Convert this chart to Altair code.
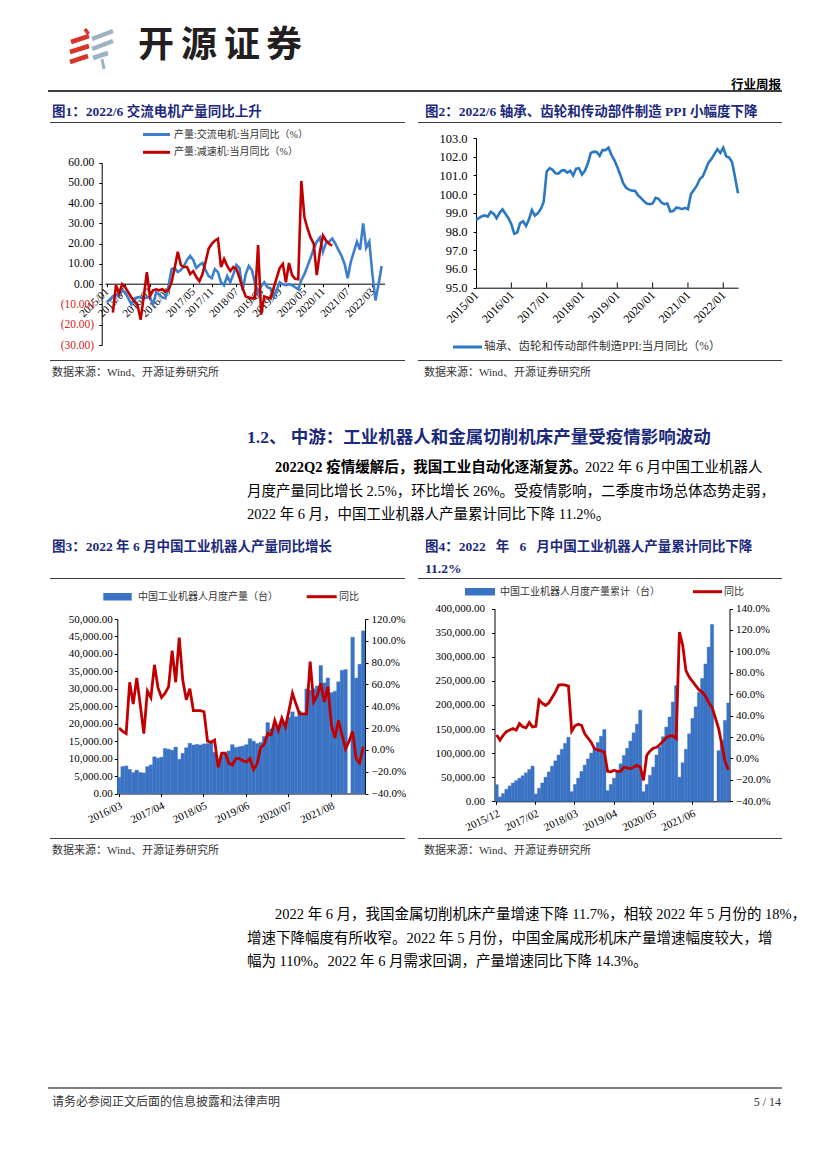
import json
import altair as alt
import pandas as pd

W, H = 811, 1153
M = 8

SERIF = "Liberation Serif"
MIX = "Liberation Serif, Noto Sans CJK SC"
CJK = "Noto Sans CJK SC"
NAVY = "#1C2A7C"
BLUE_LINE = "#3E7FCB"
BLUE_PPI = "#2B78C2"
BLUE_BAR = "#3A72C4"
RED = "#C00000"
NEG_RED = "#D42020"
GREY_TXT = "#333333"

# ---------------- data ----------------
fig1_ticks = ["2015/01", "2015/07", "2016/03", "2016/09", "2017/05", "2017/11", "2018/07",
              "2019/03", "2019/09", "2020/05", "2020/11", "2021/07", "2022/03"]
ac_motor_yoy = [-9, -7.5, -6, -5, -6, -3, -4, -7, -10, -7,
                -6.5, -6.5, -7, -6.5, -6.5, -10, -4, -5, -6.5, -7,
                -1, 7.5, 8, 6, 7, 9, 12, 14, 12, 8,
                9.5, 10.5, 7, 4, 3, 7.5, 6, 1, -0.5, 4,
                1, 5, 9.5, 8, -3, 5, 9, 7, 0.5, -4,
                -1, 1, -1.5, -2, -6.5, -3, 1, 0, -0.5, 0,
                -0.5, -1.5, -2.5, 2, 5, 9, 13, 17.5, 21, 23,
                16, 20.5, 21, 22.5, 20, 17, 14, 10, 3, 11,
                16, 21, 17, 30, 18, 21, 5, -8, 0, 9]
reducer_yoy = [-14, -0.5, -4.5, 0, -1.5, -4, -6.5, -8.5, -10.5, -17.5,
               -6, 6, -6, -3, -2.5, -3, -2.5, -3.5, -3, 1,
               8, 16, 9.5, 8.5, 8.5, 5, 6.5, 3.5, 1.5, 5,
               11, 17.5, 20, 21.5, 22.5, 8.5, 12.5, 9, 6.5, 8.5,
               7.5, 3, -2, -6, -6.5, -7, -7, 19.3, -15, -6,
               -6.5, -7, -2, 3, 8, 10, 1, 10.5, 4.5, 2.7,
               2.5, 51, 33, 27.5, 23, 20, 4.5, 16, 24, 21.5,
               20, 19]

fig2_ticks = ["2015/01", "2016/01", "2017/01", "2018/01", "2019/01", "2020/01", "2021/01", "2022/01"]
bearing_ppi_yoy = [98.63, 98.72, 98.82, 98.86, 98.80, 99.05, 98.95, 98.71, 99.0, 99.18,
                   98.95, 98.71, 98.40, 97.88, 97.95, 98.45, 98.55, 98.30, 98.65, 99.15,
                   98.85, 98.98, 99.2, 99.6, 101.2, 101.39, 101.3, 101.12, 101.1, 101.25,
                   101.28, 101.15, 101.25, 101.0, 101.36, 101.38, 101.05, 101.25, 101.65, 102.2,
                   102.27, 102.25, 102.05, 102.35, 102.35, 102.48, 102.1, 101.82, 101.45, 101.04,
                   100.58, 100.34, 100.24, 100.18, 100.18, 99.95, 99.8, 99.63, 99.5, 99.46,
                   99.5, 99.8, 99.75, 99.55, 99.47, 99.5, 99.07, 99.1, 99.28, 99.26,
                   99.2, 99.27, 99.2, 100.0, 100.22, 100.45, 100.8, 100.95, 101.3, 101.7,
                   101.88, 102.15, 102.4, 102.2, 102.48, 102.02, 101.95, 101.7, 100.9, 100.05]

robot_monthly_output = [4600, 7700, 7900, 6900, 6000, 6700, 6000, 5900, 7700, 8200,
                        10500, 10100, 10400, 12900, 12700, 12400, 13300, 9800, 11500, 13100,
                        14400, 13900, 14100, 13900, 14200, 14300, 14600, 11800, 9900, 11000,
                        11400, 12200, 14000, 13200, 13400, 13600, 14000, 15700, 15000, 14300,
                        14600, 16300, 20300, 18500, 19100, 19500, 21200, 20000, 21800, 23400,
                        22000, 23600, 22800, 30000, 29600, 30000, 30800, 36700, 31700, 33100,
                        28900, 29300, 32000, 35300, 35500, None, 44800, 33100, 37000, 46600]
robot_monthly_yoy = [20, 17, 15, 62, 42, 66, 41, 15, 54, 48,
                     78, 57, 48, 52, 58, 91, 62, 103, 64, 46,
                     56, 36, 36, 36, 35, 8, 7, 9, -16, -3,
                     -3, -12, -14, -8, -8, -10, -11, -8, -18, -13,
                     2, 5, 15, 14, 27, 18, 29, 21, 36, 52,
                     42, 33, 33, 33, 81, 44, 50, 61, 44, 58,
                     23, 11, 27, 14, 1, 8, 17, -8, -12, 3]

robot_cum_output = [34600,
                    9000, 16000, 25000, 32000, 38000, 43000, 48000, 53000, 59000, 66000, 73000,
                    15000, 27000, 38000, 50000, 61000, 73000, 84000, 96000, 108000, 120000, 133000,
                    20000, 35000, 48000, 62000, 75000, 88000, 100000, 110000, 122000, 135000, 149000,
                    22000, 35000, 48000, 61000, 78000, 95000, 110000, 125000, 142000, 160000, 189000,
                    20000, 35000, 54000, 71000, 96000, 113000, 134000, 154000, 175000, 206000, 240000,
                    50000, 80000, 108000, 140000, 172000, 196000, 226000, 255000, 285000, 320000, 367000,
                    None, 105000, 127000, 168000, 204000]
robot_cum_yoy = [22, 17, 21.5, 25, 26.5, 28, 26.5, 32.5, 29.5, 28.5, 33.5, 29.5,
                 30, 54.5, 51.5, 49.5, 52, 57, 62, 68.5, 69, 68.5,
                 67.5, 25.5, 30.5, 32, 31, 23, 19, 15, 9, 8, 7,
                 6, -12, -12.5, -11, -12, -12, -8, -9, -9.5, -8, -6.5,
                 -8, -20.5, 3, 7, 9.5, 10.5, 13, 16, 19.5, 21, 21,
                 18.5, 118, 106, 82, 76, 72, 68, 64, 62, 58, 52,
                 48, 38, 28, 13, -3, -10.5]


def month_index(s, y0=2015, m0=1):
    y, m = s.split("/")
    return (int(y) - y0) * 12 + int(m) - m0


def months_skip_jan(y0, m0, y1, m1):
    out = []
    y, m = y0, m0
    while (y, m) <= (y1, m1):
        if m != 1:
            out.append(f"{y}/{m:02d}")
        m += 1
        if m > 12:
            m, y = 1, y + 1
    return out


cats3 = months_skip_jan(2016, 3, 2022, 6)
cats4 = months_skip_jan(2015, 12, 2022, 6)
labels3 = cats3[::12]
labels4 = cats4[::12]

ONE = pd.DataFrame({"k": [0]})


def text(x, y, s, size=12, color="black", bold=False, font=MIX, align="left", baseline="middle"):
    return alt.Chart(ONE).mark_text(
        text=s, fontSize=size, color=color, fontWeight="bold" if bold else "normal",
        font=font, align=align, baseline=baseline
    ).encode(x=alt.value(x - M), y=alt.value(y - M))


def rule(x1, y1, x2, y2, color="black", w=1.0, cap="butt"):
    return alt.Chart(ONE).mark_rule(color=color, strokeWidth=w, strokeCap=cap).encode(
        x=alt.value(x1 - M), y=alt.value(y1 - M), x2=alt.value(x2 - M), y2=alt.value(y2 - M))


def box(x1, y1, x2, y2, color):
    return alt.Chart(ONE).mark_rect(color=color).encode(
        x=alt.value(x1 - M), y=alt.value(y1 - M), x2=alt.value(x2 - M), y2=alt.value(y2 - M))


AX = dict(grid=False, domainColor="black", tickColor="black", labelColor="black",
          labelFont=SERIF, domainWidth=1, tickWidth=1)


def lookup_expr(values, labels):
    return "%s[indexof(%s, datum.value)]" % (json.dumps(labels), json.dumps(values))


# ---------------- Figure 1 ----------------
df1a = pd.DataFrame({"i": list(range(len(ac_motor_yoy))), "v": ac_motor_yoy})
df1b = pd.DataFrame({"i": list(range(2, 2 + len(reducer_yoy))), "v": reducer_yoy})
t1 = [month_index(s) for s in fig1_ticks]
x1_scale = alt.Scale(domain=[-0.55, 89.95], range=[97, 376.6], nice=False, zero=False)
y1_scale = alt.Scale(domain=[-30, 60], range=[337, 154.7], nice=False, zero=False)
x1_axis = alt.Axis(orient="bottom", offset=275.7 - H, values=t1, labelExpr=lookup_expr(t1, fig1_ticks),
                   labelAngle=-45, labelAlign="right", labelBaseline="middle",
                   labelPadding=3, tickSize=3, labelFontSize=11, labelOverlap=False,
                   labelFlush=False, **AX)
y1_axis = alt.Axis(orient="left", offset=-93.7, values=list(range(-30, 61, 10)),
                   labelExpr="datum.value < 0 ? '(' + format(-datum.value, '.2f') + ')' : format(datum.value, '.2f')",
                   tickSize=3, labelPadding=5, labelFontSize=11.5, grid=False, domainColor="black",
                   tickColor="black", labelFont=SERIF,
                   labelColor={"condition": {"test": "datum.value < 0", "value": NEG_RED}, "value": "black"})
c1a = alt.Chart(df1a).mark_line(color=BLUE_LINE, strokeWidth=2.6).encode(
    x=alt.X("i:Q", scale=x1_scale, axis=x1_axis, title=None),
    y=alt.Y("v:Q", scale=y1_scale, axis=y1_axis, title=None))
c1b = alt.Chart(df1b).mark_line(color=RED, strokeWidth=2.6).encode(
    x=alt.X("i:Q", scale=x1_scale, axis=None),
    y=alt.Y("v:Q", scale=y1_scale, axis=None))

# ---------------- Figure 2 ----------------
df2 = pd.DataFrame({"i": list(range(len(bearing_ppi_yoy))), "v": bearing_ppi_yoy})
t2 = [month_index(s) for s in fig2_ticks]
df2t = pd.DataFrame({"i": t2[1:], "lo": [95] * (len(t2) - 1), "hi": [95.28] * (len(t2) - 1)})
x2_scale = alt.Scale(domain=[0, 89], range=[468, 730], nice=False, zero=False)
y2_scale = alt.Scale(domain=[95, 103], range=[279.7, 130], nice=False, zero=False)
x2_axis = alt.Axis(orient="bottom", offset=279.7 - H, values=t2, labelExpr=lookup_expr(t2, fig2_ticks),
                   labelAngle=-45, labelAlign="right", labelBaseline="middle",
                   labelPadding=5, tickSize=0, labelFontSize=12, labelOverlap=False,
                   labelFlush=False, **AX)
y2_axis = alt.Axis(orient="left", offset=-468, values=list(range(95, 104)), format=".1f",
                   tickSize=3, labelPadding=6, labelFontSize=12.5, **AX)
c2 = alt.Chart(df2).mark_line(color=BLUE_PPI, strokeWidth=2.6).encode(
    x=alt.X("i:Q", scale=x2_scale, axis=x2_axis, title=None),
    y=alt.Y("v:Q", scale=y2_scale, axis=y2_axis, title=None))
c2t = alt.Chart(df2t).mark_rule(color="black", strokeWidth=1).encode(
    x=alt.X("i:Q", scale=x2_scale, axis=None),
    y=alt.Y("lo:Q", scale=y2_scale, axis=None),
    y2="hi:Q")

# ---------------- Figure 3 ----------------
df3 = pd.DataFrame({"cat": cats3, "out": robot_monthly_output, "yoy": robot_monthly_yoy})
x3_scale = alt.Scale(type="band", domain=cats3, range=[109.3, 357], paddingInner=0, paddingOuter=0)
x3_axis = alt.Axis(orient="bottom", offset=785.5 - H, values=labels3,
                   labelAngle=-25, labelAlign="right", labelBaseline="top", tickSize=3,
                   labelPadding=3, labelOverlap=False, labelFontSize=11, **AX)
c3b = alt.Chart(df3).mark_bar(color=BLUE_BAR, stroke=BLUE_BAR, strokeWidth=0.4).encode(
    x=alt.X("cat:O", scale=x3_scale, axis=x3_axis, title=None),
    y=alt.Y("out:Q", title=None,
            scale=alt.Scale(domain=[0, 50000], range=[785.5, 611], nice=False, zero=True),
            axis=alt.Axis(orient="left", offset=-109.3, values=list(range(0, 50001, 5000)),
                          format=",.2f", tickSize=3, labelPadding=2, labelFontSize=11, **AX)))
c3l = alt.Chart(df3).mark_line(color=RED, strokeWidth=2.8).encode(
    x=alt.X("cat:O", scale=x3_scale, axis=None, bandPosition=0.5),
    y=alt.Y("yoy:Q", title=None,
            scale=alt.Scale(domain=[-40, 120], range=[785.5, 611], nice=False, zero=False),
            axis=alt.Axis(orient="right", offset=357 - W, values=list(range(-40, 121, 20)),
                          labelExpr="format(datum.value, '.1f') + '%'", tickSize=3,
                          labelPadding=3, labelFontSize=11, **AX)))

# ---------------- Figure 4 ----------------
df4 = pd.DataFrame({"cat": cats4, "out": robot_cum_output, "yoy": robot_cum_yoy})
x4_scale = alt.Scale(type="band", domain=cats4, range=[487, 722], paddingInner=0, paddingOuter=0)
x4_axis = alt.Axis(orient="bottom", offset=793.3 - H, values=labels4,
                   labelAngle=-25, labelAlign="right", labelBaseline="top", tickSize=3,
                   labelPadding=3, labelOverlap=False, labelFontSize=11, **AX)
c4b = alt.Chart(df4).mark_bar(color=BLUE_BAR, stroke=BLUE_BAR, strokeWidth=0.4).encode(
    x=alt.X("cat:O", scale=x4_scale, axis=x4_axis, title=None),
    y=alt.Y("out:Q", title=None,
            scale=alt.Scale(domain=[0, 400000], range=[793.3, 600.5], nice=False, zero=True),
            axis=alt.Axis(orient="left", offset=-486.5, values=list(range(0, 400001, 50000)),
                          format=",.2f", tickSize=3, labelPadding=7, labelFontSize=11, **AX)))
c4l = alt.Chart(df4).mark_line(color=RED, strokeWidth=2.8).encode(
    x=alt.X("cat:O", scale=x4_scale, axis=None, bandPosition=0.5),
    y=alt.Y("yoy:Q", title=None,
            scale=alt.Scale(domain=[-40, 140], range=[793.3, 600.5], nice=False, zero=False),
            axis=alt.Axis(orient="right", offset=721.5 - W, values=list(range(-40, 141, 20)),
                          labelExpr="format(datum.value, '.1f') + '%'", tickSize=3,
                          labelPadding=3, labelFontSize=11, **AX)))

# ---------------- page decorations ----------------
deco = []
LOGO_RED = "#D8352A"
LOGO_GREY = "#9DB2C3"
deco += [
    rule(85, 29, 88.5, 34, LOGO_RED, 3.5),
    rule(71, 42, 89, 36, LOGO_RED, 4.5),
    rule(70, 52, 89, 46, LOGO_RED, 4.5),
    rule(70, 62, 88, 56, LOGO_RED, 4.5),
    rule(92, 39, 113, 31, LOGO_GREY, 4.5),
    rule(92, 49, 113, 41, LOGO_GREY, 4.5),
    rule(93, 58, 108, 53, LOGO_GREY, 4.5),
    rule(102, 59, 104, 69, LOGO_GREY, 3),
]
for ch, cx in zip("开源证券", [156, 199, 242, 284]):
    deco.append(text(cx, 46, ch, size=36, color="#231F20", bold=True, font=CJK, align="center"))
deco.append(text(781, 85, "行业周报", size=12.5, bold=True, font=CJK, align="right"))
deco.append(rule(48, 91, 782, 91, "black", 1.3))

deco.append(text(52, 112, "图1：2022/6 交流电机产量同比上升", size=13.5, color=NAVY, bold=True))
deco.append(text(425, 112, "图2：2022/6 轴承、齿轮和传动部件制造 PPI 小幅度下降", size=13.5, color=NAVY, bold=True))
deco.append(rule(50, 122.5, 405, 122.5, "#404040", 1))
deco.append(rule(418, 122.5, 782, 122.5, "#404040", 1))
deco.append(rule(143, 134.5, 170, 134.5, BLUE_LINE, 3))
deco.append(text(174, 134.5, "产量:交流电机:当月同比（%）", size=10, color=GREY_TXT))
deco.append(rule(143, 152.3, 170, 152.3, RED, 3))
deco.append(text(174, 152.3, "产量:减速机:当月同比（%）", size=10, color=GREY_TXT))
deco.append(rule(453, 347, 482, 347, BLUE_PPI, 3))
deco.append(text(484, 347, "轴承、齿轮和传动部件制造PPI:当月同比（%）", size=11.5, color=GREY_TXT))
deco.append(rule(50, 360.5, 405, 360.5, "#404040", 1))
deco.append(rule(418, 360.5, 782, 360.5, "#404040", 1))
deco.append(text(52, 372.5, "数据来源：Wind、开源证券研究所", size=11, color=GREY_TXT))
deco.append(text(424, 372.5, "数据来源：Wind、开源证券研究所", size=11, color=GREY_TXT))

deco.append(text(247, 438, "1.2、 中游：工业机器人和金属切削机床产量受疫情影响波动", size=17.5, color=NAVY, bold=True))
deco.append(text(275, 468, "2022Q2 疫情缓解后，我国工业自动化逐渐复苏。", size=14.5, bold=True))
deco.append(text(585, 468, "2022 年 6 月中国工业机器人", size=14.5))
deco.append(text(247, 492, "月度产量同比增长 2.5%，环比增长 26%。受疫情影响，二季度市场总体态势走弱，", size=14.5))
deco.append(text(247, 515, "2022 年 6 月，中国工业机器人产量累计同比下降 11.2%。", size=14.5))

deco.append(text(52, 546.5, "图3：2022 年 6 月中国工业机器人产量同比增长", size=13.5, color=NAVY, bold=True))
deco.append(text(425, 546.5, "图4：2022\u2002 年\u2002 6\u2002 月中国工业机器人产量累计同比下降",
                 size=13.5, color=NAVY, bold=True))
deco.append(text(425, 568.5, "11.2%", size=13.5, color=NAVY, bold=True))
deco.append(rule(50, 578.5, 405, 578.5, "#404040", 1))
deco.append(rule(418, 578.5, 782, 578.5, "#404040", 1))
deco.append(box(103.3, 593, 131.7, 600.5, BLUE_BAR))
deco.append(text(138, 596.7, "中国工业机器人月度产量（台）", size=10, color=GREY_TXT))
deco.append(rule(306.7, 596.7, 336.7, 596.7, RED, 3))
deco.append(text(339, 596.7, "同比", size=10, color=GREY_TXT))
deco.append(box(465, 588, 495, 595.5, BLUE_BAR))
deco.append(text(500, 591.7, "中国工业机器人月度产量累计（台）", size=10, color=GREY_TXT))
deco.append(rule(693, 591.7, 722, 591.7, RED, 3))
deco.append(text(724, 591.7, "同比", size=10, color=GREY_TXT))
deco.append(rule(50, 838.5, 405, 838.5, "#404040", 1))
deco.append(rule(418, 838.5, 782, 838.5, "#404040", 1))
deco.append(text(52, 851, "数据来源：Wind、开源证券研究所", size=11, color=GREY_TXT))
deco.append(text(424, 851, "数据来源：Wind、开源证券研究所", size=11, color=GREY_TXT))

deco.append(text(275, 915, "2022 年 6 月，我国金属切削机床产量增速下降 11.7%，相较 2022 年 5 月份的 18%，", size=14.5))
deco.append(text(247, 939, "增速下降幅度有所收窄。2022 年 5 月份，中国金属成形机床产量增速幅度较大，增", size=14.5))
deco.append(text(247, 962, "幅为 110%。2022 年 6 月需求回调，产量增速同比下降 14.3%。", size=14.5))

deco.append(rule(48, 1088, 782, 1088, "black", 1.2))
deco.append(text(52, 1102, "请务必参阅正文后面的信息披露和法律声明", size=12, color=GREY_TXT))
deco.append(text(781, 1102, "5 / 14", size=12, color=GREY_TXT, font=SERIF, align="right"))

page = alt.layer(*deco, c1a, c1b, c2, c2t, c3b, c3l, c4b, c4l).resolve_scale(
    x="independent", y="independent"
).properties(
    width=W, height=H, padding=0, autosize=alt.AutoSizeParams(type="none")
).configure_view(stroke=None).configure_axis(grid=False)

page.save("out.html", embed_options={"renderer": "svg", "actions": False})
